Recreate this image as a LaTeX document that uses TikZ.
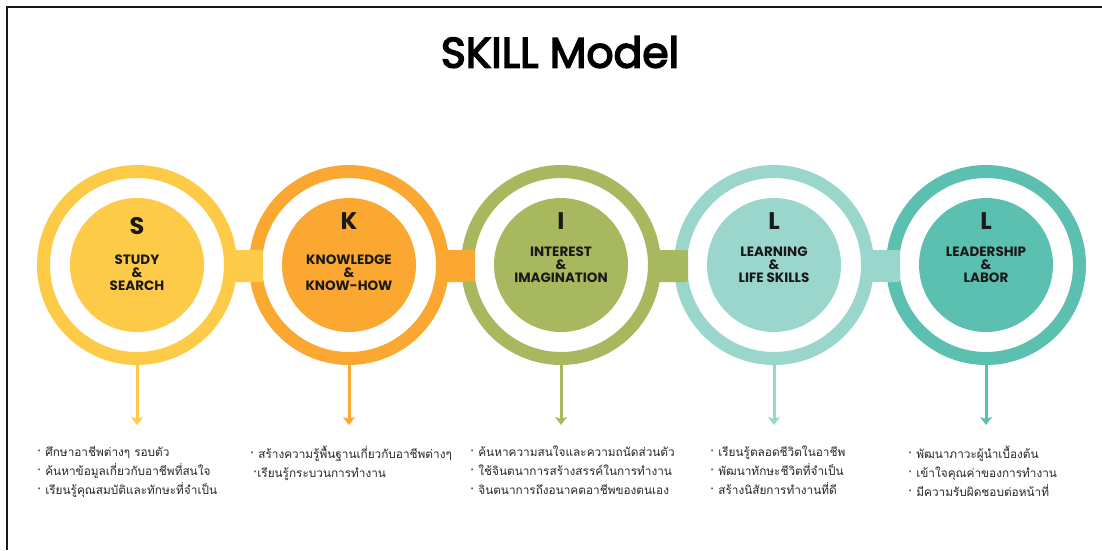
\documentclass[tikz,border=0pt]{standalone}
\usepackage{fontspec}
\usetikzlibrary{arrows.meta}
\newfontfamily\thaifont[Script=Thai]{Loma}
\newfontfamily\popfont{Poppins}
\newfontfamily\popmed{Poppins}[FakeBold=3.5]
\definecolor{cS}{HTML}{FDCB48}
\definecolor{cK}{HTML}{FBA833}
\definecolor{cI}{HTML}{A8B85E}
\definecolor{cLa}{HTML}{9AD6CC}
\definecolor{cLb}{HTML}{5CC0B1}
\begin{document}
\begin{tikzpicture}[x=1pt,y=-1pt,
  ring/.style={circle,minimum size=187pt,line width=13pt,draw=#1,inner sep=0pt},
  core/.style={circle,minimum size=134pt,fill=#1,inner sep=0pt},
  link/.style={fill=#1,rounded corners=2pt},
  letter/.style={font=\popfont\bfseries\fontsize{24}{24}\selectfont,text=black!90},
  words/.style={font=\popfont\bfseries\fontsize{13.5}{13}\selectfont,align=center,text=black!90},
  down/.style={draw=#1,line width=3pt,-{Stealth[width=12pt,length=8pt,inset=2pt]}},
  bullets/.style={font=\thaifont\fontsize{11.8}{19}\selectfont,align=left,anchor=north west,inner sep=0pt,text=black!85}]
\useasboundingbox (0,0) rectangle (1102,550);
\draw[line width=2pt,black!90] (7,550) -- (7,7) -- (1102,7);
\node[font=\popmed\fontsize{42.5}{42.5}\selectfont] (title) at (560,52) {SKILL Model};
% rings
\node[ring=cS] (r1) at (137,265) {};
\node[ring=cK] (r2) at (349,265) {};
\node[ring=cI] (r3) at (561,265) {};
\node[ring=cLa] (r4) at (774,265) {};
\node[ring=cLb] (r5) at (986,265) {};
% links
\fill[link=cS] (229,250) rectangle (263,282);
\fill[link=cK] (441,250) rectangle (475,282);
\fill[link=cI] (653,250) rectangle (688,282);
\fill[link=cLa] (866,250) rectangle (900,282);
% cores
\node[core=cS] (c1) at (137,265) {};
\node[core=cK] (c2) at (349,265) {};
\node[core=cI] (c3) at (561,265) {};
\node[core=cLa] (c4) at (774,265) {};
\node[core=cLb] (c5) at (986,265) {};
% letters and words
\node[letter] (l1) at (137,226) {S};
\node[words] (w1) at (137,273) {STUDY\\\&\\SEARCH};
\node[letter] (l2) at (349,221) {K};
\node[words] (w2) at (349,273) {KNOWLEDGE\\\&\\KNOW-HOW};
\node[letter] (l3) at (561,221) {I};
\node[words] (w3) at (561,265) {INTEREST\\\&\\IMAGINATION};
\node[letter] (l4) at (774,221) {L};
\node[words] (w4) at (774,265) {LEARNING\\\&\\LIFE SKILLS};
\node[letter] (l5) at (986,221) {L};
\node[words] (w5) at (986,265) {LEADERSHIP\\\&\\LABOR};
% arrows
\coordinate (e1) at (137,425);
\coordinate (e2) at (349,425);
\coordinate (e3) at (561,425);
\coordinate (e4) at (774,425);
\coordinate (e5) at (986,425);
\draw[down=cS] (r1.south) -- (e1);
\draw[down=cK] (r2.south) -- (e2);
\draw[down=cI] (r3.south) -- (e3);
\draw[down=cLa] (r4.south) -- (e4);
\draw[down=cLb] (r5.south) -- (e5);
% bullet texts
\node[bullets] (t1) at (37,446) {· ศึกษาอาชีพต่างๆ รอบตัว\\· ค้นหาข้อมูลเกี่ยวกับอาชีพที่สนใจ\\· เรียนรู้คุณสมบัติและทักษะที่จำเป็น};
\node[bullets] (t2) at (250,446) {· สร้างความรู้พื้นฐานเกี่ยวกับอาชีพต่างๆ\\\hspace{3pt}·เรียนรู้กระบวนการทำงาน};
\node[bullets] (t3) at (470,446) {· ค้นหาความสนใจและความถนัดส่วนตัว\\· ใช้จินตนาการสร้างสรรค์ในการทำงาน\\· จินตนาการถึงอนาคตอาชีพของตนเอง};
\node[bullets] (t4) at (710,446) {· เรียนรู้ตลอดชีวิตในอาชีพ\\· พัฒนาทักษะชีวิตที่จำเป็น\\· สร้างนิสัยการทำงานที่ดี};
\node[bullets] (t5) at (908,446) {· พัฒนาภาวะผู้นำเบื้องต้น\\· เข้าใจคุณค่าของการทำงาน\\· มีความรับผิดชอบต่อหน้าที่};
\end{tikzpicture}
\end{document}
